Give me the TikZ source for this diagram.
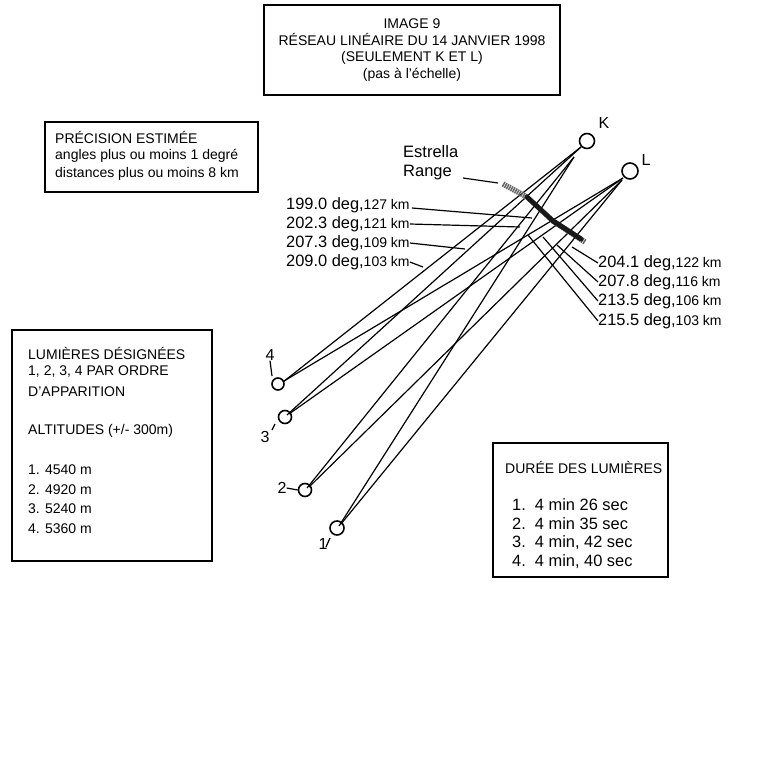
\documentclass[tikz,border=0pt]{standalone}
\usepackage{fontspec}
\setmainfont{Liberation Sans}
\tikzset{
  box/.style={draw,line width=1.6pt,inner sep=0pt,minimum width=0pt},
  stn/.style={circle,draw,line width=1.6pt,inner sep=0pt,fill=none},
  ray/.style={line width=1.2pt},
  lead/.style={line width=1.2pt},
  txt/.style={inner sep=0pt,anchor=west,font=\fontsize{14}{15}\selectfont},
  big/.style={inner sep=0pt,anchor=west,font=\fontsize{16.4}{17}\selectfont},
  num/.style={inner sep=0pt,font=\fontsize{16}{16}\selectfont},
  rangecore/.style={line width=5pt,black!90,line cap=round,line join=round,dash pattern=on 5pt off 0.6pt},
  rangeedge/.style={line width=5.5pt,black!60,dash pattern=on 1.5pt off 0.8pt,line cap=butt},
}
\newcommand{\deglab}[2]{#1 deg,{\fontsize{14}{15}\selectfont #2 km}}
\begin{document}
\begin{tikzpicture}[x=1pt,y=-1pt]
\useasboundingbox (0,0) rectangle (768,768);
% boxes
\node[box,minimum width=296pt,minimum height=90pt] (title) at (412,50) {};
\node[box,minimum width=213pt,minimum height=70pt] (prec) at (151.5,157) {};
\node[box,minimum width=200pt,minimum height=231pt] (lum) at (112,445.5) {};
\node[box,minimum width=175pt,minimum height=134pt] (dur) at (580.5,510) {};
% title
\node[inner sep=0pt,align=center,font=\fontsize{14}{16.6}\selectfont] (ttxt) at (412,50)
 {IMAGE 9\\RÉSEAU LINÉAIRE DU 14 JANVIER 1998\\(SEULEMENT K ET L)\\(pas à l'échelle)};
% precision
\node[txt] (p1) at (55,137) {PRÉCISION ESTIMÉE};
\node[txt] (p2) at (55,156) {angles plus ou moins 1 degré};
\node[txt] (p3) at (55,174) {distances plus ou moins 8 km};
% lights
\node[txt] (l1) at (28,353) {LUMIÈRES DÉSIGNÉES};
\node[txt] (l2) at (28,372) {1, 2, 3, 4 PAR ORDRE};
\node[txt] (l3) at (28,392) {D'APPARITION};
\node[txt] (l4) at (28,431) {ALTITUDES (+/- 300m)};
\node[txt] (l5) at (28,470) {1. 4540 m};
\node[txt] (l6) at (28,490) {2. 4920 m};
\node[txt] (l7) at (28,509) {3. 5240 m};
\node[txt] (l8) at (28,529) {4. 5360 m};
% duration
\node[txt] (d0) at (505,467) {DURÉE DES LUMIÈRES};
\node[big] (d1) at (512,505) {1.\ \ 4 min 26 sec};
\node[big] (d2) at (512,524) {2.\ \ 4 min 35 sec};
\node[big] (d3) at (512,543) {3.\ \ 4 min, 42 sec};
\node[big] (d4) at (512,562) {4.\ \ 4 min, 40 sec};
% stations
\node[stn,minimum size=15pt] (K) at (587,141) {};
\node[stn,minimum size=16pt] (L) at (630,171) {};
\node[stn,minimum size=12pt] (n4) at (278,384) {};
\node[stn,minimum size=13pt] (n3) at (285,417) {};
\node[stn,minimum size=13pt] (n2) at (305,490) {};
\node[stn,minimum size=14pt] (n1) at (337,528) {};
\node[inner sep=0pt,font=\fontsize{16}{16}\selectfont] (Ktxt) at (604,123) {K};
\node[inner sep=0pt,font=\fontsize{16}{16}\selectfont] (Ltxt) at (646,160) {L};
\node[num] (t4) at (270,355) {4};
\node[num] (t3) at (265,437) {3};
\node[num] (t2) at (282,488) {2};
\node[num] (t1) at (323,544) {1};
\coordinate (a4) at (283,382);
\coordinate (a3) at (287,415);
\coordinate (a2) at (307,488);
\coordinate (a1) at (339,526);
\coordinate (b4) at (284,381);
\coordinate (b3) at (289,414);
\coordinate (b2) at (309,487);
\coordinate (b1) at (341,524);
\coordinate (kf) at (581,147);
\coordinate (kg) at (574,157);
\coordinate (lf) at (623,178);
\coordinate (lg) at (622,180);
% rays
\draw[ray] (K.south west) -- (a4);
\draw[ray] (kf) -- (a3);
\draw[ray] (kg) -- (a2);
\draw[ray] (kg) -- (a1);
\draw[ray] (lf) -- (b4);
\draw[ray] (lf) -- (b3);
\draw[ray] (lg) -- (b2);
\draw[ray] (lg) -- (b1);
% range
\coordinate (r0) at (503,184);
\coordinate (r1) at (527,197);
\coordinate (r2) at (553,221);
\coordinate (r3) at (585,242);
\draw[rangeedge] (r0) -- (r1);
\draw[rangeedge] (r2) -- (r3);
\draw[rangecore] (r1) -- (r2) -- (581,239);
% range label
\node[inner sep=0pt,align=left,anchor=north west,font=\fontsize{16.5}{19}\selectfont] (est) at (403,145) {Estrella\\Range};
\coordinate (e1) at (463,178);
\coordinate (e2) at (498,183);
\draw[lead] (e1) -- (e2);
% left labels
\node[big,anchor=west] (a) at (286,205) {\deglab{199.0}{127}};
\node[big,anchor=west] (b) at (286,224) {\deglab{202.3}{121}};
\node[big,anchor=west] (c) at (286,243) {\deglab{207.3}{109}};
\node[big,anchor=west] (d) at (286,262) {\deglab{209.0}{103}};
\coordinate (ae) at (532,218);
\coordinate (be) at (520,227);
\coordinate (ce) at (465,249);
\coordinate (de) at (423,267);
\draw[lead] (a.east) ++(2,3) coordinate (as) -- (ae);
\draw[lead] (b.east) -- (be);
\draw[lead] (c.east) -- (ce);
\draw[lead] (d.east) -- (de);
% right labels
\node[big,anchor=west] (e) at (598,263) {\deglab{204.1}{122}};
\node[big,anchor=west] (f) at (598,282) {\deglab{207.8}{116}};
\node[big,anchor=west] (g) at (598,301) {\deglab{213.5}{106}};
\node[big,anchor=west] (h) at (598,321) {\deglab{215.5}{103}};
\coordinate (ee) at (572,247);
\coordinate (fe) at (557,245);
\coordinate (ge) at (543,237);
\coordinate (he) at (528,235);
\draw[lead] (e.west) -- (ee);
\draw[lead] (f.west) -- (fe);
\draw[lead] (g.west) -- (ge);
\draw[lead] (h.west) -- (he);
% ticks
\coordinate (t4b) at (272,376);
\coordinate (t3b) at (275,424);
\coordinate (t3c) at (272,430);
\coordinate (t1b) at (330,538);
\coordinate (t1c) at (326,547);
\draw[lead] (t4.south) -- (t4b);
\draw[lead] (t3b) -- (t3c);
\draw[lead] (t2.east) -- (n2.west);
\draw[lead] (t1b) -- (t1c);
\end{tikzpicture}
\end{document}
